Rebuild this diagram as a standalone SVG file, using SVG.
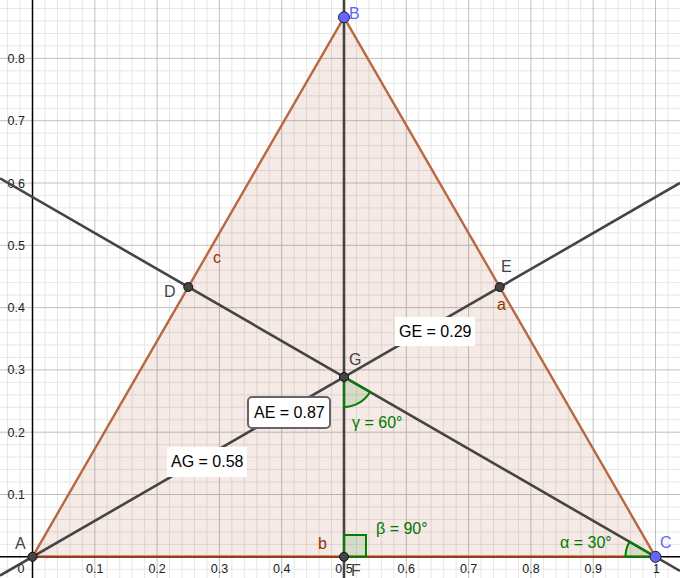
<svg xmlns="http://www.w3.org/2000/svg" width="680" height="578" viewBox="0 0 680 578">
<style>
.minor{stroke:#e6e6e6;stroke-width:1;fill:none}
.major{stroke:#c0c0c0;stroke-width:1;fill:none}
.axis{stroke:#000;stroke-width:1.5;fill:none}
.ln{stroke:#444;stroke-width:2.6;fill:none;stroke-linecap:butt}
.edge{stroke:#b8683f;stroke-width:2.4;fill:none}
.edgeb{stroke:#9a3d14;stroke-width:2.4;fill:none}
.ang{fill:#007f00;fill-opacity:0.12;stroke:#007f00;stroke-width:2}
.pt{fill:#444;stroke:#111;stroke-width:1}
.ptb{fill:#6464ff;stroke:#222;stroke-width:1}
text{font-family:"Liberation Sans","Arial",sans-serif}
.tick{font-size:12.5px;fill:#222}
.lbl{font-size:16px;fill:#444}
.lblb{font-size:16px;fill:#6464ff}
.side{font-size:16px;fill:#993300}
.al{font-size:16px;fill:#007a00}
.box{font-size:16px;fill:#000}
</style>
<rect width="680" height="578" fill="#fff"/>
<g id="grid">
<path class="minor" d="M7.58 0V578M20.04 0V578M44.96 0V578M57.42 0V578M69.88 0V578M82.34 0V578M107.26 0V578M119.72 0V578M132.18 0V578M144.64 0V578M169.56 0V578M182.02 0V578M194.48 0V578M206.94 0V578M231.86 0V578M244.32 0V578M256.78 0V578M269.24 0V578M294.16 0V578M306.62 0V578M319.08 0V578M331.54 0V578M356.46 0V578M368.92 0V578M381.38 0V578M393.84 0V578M418.76 0V578M431.22 0V578M443.68 0V578M456.14 0V578M481.06 0V578M493.52 0V578M505.98 0V578M518.44 0V578M543.36 0V578M555.82 0V578M568.28 0V578M580.74 0V578M605.66 0V578M618.12 0V578M630.58 0V578M643.04 0V578M667.96 0V578
M0 569.26H680M0 544.34H680M0 531.88H680M0 519.42H680M0 506.96H680M0 482.04H680M0 469.58H680M0 457.12H680M0 444.66H680M0 419.74H680M0 407.28H680M0 394.82H680M0 382.36H680M0 357.44H680M0 344.98H680M0 332.52H680M0 320.06H680M0 295.14H680M0 282.68H680M0 270.22H680M0 257.76H680M0 232.84H680M0 220.38H680M0 207.92H680M0 195.46H680M0 170.54H680M0 158.08H680M0 145.62H680M0 133.16H680M0 108.24H680M0 95.78H680M0 83.32H680M0 70.86H680M0 45.94H680M0 33.48H680M0 21.02H680M0 8.56H680"/>
<path class="major" d="M94.8 0V578M157.1 0V578M219.4 0V578M281.7 0V578M344 0V578M406.3 0V578M468.6 0V578M530.9 0V578M593.2 0V578M655.5 0V578
M0 494.5H680M0 432.2H680M0 369.9H680M0 307.6H680M0 245.3H680M0 183H680M0 120.7H680M0 58.4H680"/>
</g>
<g id="triangle-fill">
<polygon points="32.5,556.8 344,17.3 655.5,556.8" fill="#993300" fill-opacity="0.1"/>
</g>
<g id="axes">
<path class="axis" d="M32.5 0V578M0 556.8H680"/>
<g class="tick">
<text x="21" y="573" text-anchor="middle">0</text>
<text x="94.8" y="573" text-anchor="middle">0.1</text>
<text x="157.1" y="573" text-anchor="middle">0.2</text>
<text x="219.4" y="573" text-anchor="middle">0.3</text>
<text x="281.7" y="573" text-anchor="middle">0.4</text>
<text x="344" y="573" text-anchor="middle">0.5</text>
<text x="406.3" y="573" text-anchor="middle">0.6</text>
<text x="468.6" y="573" text-anchor="middle">0.7</text>
<text x="530.9" y="573" text-anchor="middle">0.8</text>
<text x="593.2" y="573" text-anchor="middle">0.9</text>
<text x="656.5" y="573" text-anchor="middle">1</text>
<text x="25" y="499" text-anchor="end">0.1</text>
<text x="25" y="436.7" text-anchor="end">0.2</text>
<text x="25" y="374.4" text-anchor="end">0.3</text>
<text x="25" y="312.1" text-anchor="end">0.4</text>
<text x="25" y="249.8" text-anchor="end">0.5</text>
<text x="25" y="187.5" text-anchor="end">0.6</text>
<text x="25" y="125.2" text-anchor="end">0.7</text>
<text x="25" y="62.9" text-anchor="end">0.8</text>
</g>
</g>
<g id="connectors">
<line class="ln" x1="344" y1="0" x2="344" y2="578"/>
<line class="ln" x1="0" y1="575.6" x2="680" y2="183"/>
<line class="ln" x1="0" y1="178.3" x2="680" y2="570.9"/>
</g>
<g id="triangle-edges">
<line class="edge" x1="32.5" y1="556.8" x2="344" y2="17.3"/>
<line class="edge" x1="344" y1="17.3" x2="655.5" y2="556.8"/>
<line class="edgeb" x1="32.5" y1="556.8" x2="655.5" y2="556.8"/>
<text class="side" x="213" y="263">c</text>
<text class="side" x="497" y="310">a</text>
<text class="side" x="318" y="549">b</text>
</g>
<g id="angles">
<g id="angle-beta">
<rect class="ang" x="344" y="535" width="22" height="21.8"/>
<text class="al" x="376" y="534">β = 90°</text>
</g>
<g id="angle-gamma">
<path class="ang" d="M344 376.95L344 406.95A30 30 0 0 0 369.98 391.95Z"/>
<text class="al" x="352" y="428">γ = 60°</text>
</g>
<g id="angle-alpha">
<path class="ang" d="M655.5 556.8L625.5 556.8A30 30 0 0 1 629.52 541.8Z"/>
<text class="al" x="560" y="548">α = 30°</text>
</g>
</g>
<g id="A"><circle class="pt" cx="32.5" cy="556.8" r="4.5"/><text class="lbl" x="15" y="549">A</text></g>
<g id="B"><circle class="ptb" cx="344" cy="17.3" r="5.5"/><text class="lblb" x="349" y="19">B</text></g>
<g id="C"><circle class="ptb" cx="655.5" cy="556.8" r="5.5"/><text class="lblb" x="660" y="548">C</text></g>
<g id="D"><circle class="pt" cx="188.25" cy="287" r="4.5"/><text class="lbl" x="164" y="297">D</text></g>
<g id="E"><circle class="pt" cx="499.75" cy="287" r="4.5"/><text class="lbl" x="501" y="272">E</text></g>
<g id="F"><circle class="pt" cx="344" cy="556.8" r="4.5"/><text class="lbl" x="351" y="576">F</text></g>
<g id="G"><circle class="pt" cx="344" cy="376.95" r="4.5"/><text class="lbl" x="349" y="365">G</text></g>
<g id="box-GE"><rect x="395" y="317" width="80" height="29" fill="#fff"/><text class="box" x="399" y="337">GE = 0.29</text></g>
<g id="box-AG"><rect x="167" y="447" width="80" height="30" fill="#fff"/><text class="box" x="171" y="467">AG = 0.58</text></g>
<g id="box-AE"><rect x="248" y="397" width="82" height="31" rx="4" fill="#fff" stroke="#666" stroke-width="2"/><text class="box" x="254" y="418">AE = 0.87</text></g>
</svg>
